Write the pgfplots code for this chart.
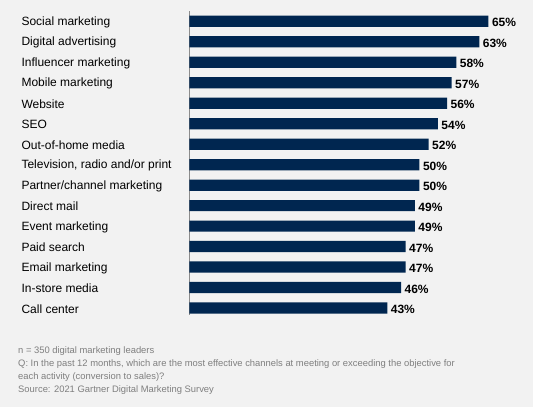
\documentclass[border=0pt]{standalone}
\usepackage{fontspec}
\setmainfont{Liberation Sans}
\usepackage{pgfplots}
\pgfplotsset{compat=1.18}
\definecolor{bg}{HTML}{F2F2F2}
\definecolor{navy}{HTML}{002650}
\definecolor{note}{HTML}{7F7F7F}
\definecolor{axisgray}{HTML}{8C8C8C}
\begin{document}
\begin{tikzpicture}
\fill[bg] (0,0) rectangle (533pt,407pt);
\begin{axis}[
  at={(189.5pt,92pt)}, anchor=south west,
  scale only axis, width=322pt, height=304pt,
  xmin=0, xmax=70, ymin=0.497, ymax=15.34,
  y dir=reverse,
  xbar, bar width=11.2pt,
  axis x line=none, axis y line=left,
  y axis line style={-, axisgray, line width=0.8pt},
  major tick length=0pt,
  ytick={1,...,15},
  yticklabels={Social marketing, Digital advertising, Influencer marketing, Mobile marketing, Website, SEO, Out-of-home media, {Television, radio and/or print}, Partner/channel marketing, Direct mail, Event marketing, Paid search, Email marketing, In-store media, Call center},
  yticklabel style={anchor=west, xshift=-171.5pt, yshift=-1pt, font=\fontsize{12}{14}\selectfont, text=black},
  /pgf/number format/assume math mode=true,
  nodes near coords={\pgfmathprintnumber{\pgfplotspointmeta}\%},
  nodes near coords style={font=\fontsize{12}{14}\selectfont\bfseries, text=black, anchor=west, xshift=0pt, yshift=-1.5pt},
  point meta=explicit,
]
\addplot[fill=navy, draw=none] coordinates {
(65,1) [65] (63,2) [63] (58,3) [58] (57,4) [57] (56,5) [56] (54,6) [54] (52,7) [52] (50,8) [50] (50,9) [50] (49,10) [49] (49,11) [49] (47,12) [47] (47,13) [47] (46,14) [46] (43,15) [43]
};
\end{axis}
\begin{scope}[every node/.style={anchor=base west, inner sep=0pt, font=\fontsize{9.4}{11}\selectfont, text=note}]
\node at (18pt,{407pt-353.5pt}) {n = 350 digital marketing leaders};
\node at (18pt,{407pt-366.5pt}) {Q: In the past 12 months, which are the most effective channels at meeting or exceeding the objective for};
\node at (18pt,{407pt-379.5pt}) {each activity (conversion to sales)?};
\node at (18pt,{407pt-393pt}) {Source: 2021 Gartner Digital Marketing Survey};
\end{scope}
\pgfresetboundingbox
\path (0,0) rectangle (533pt,407pt);
\end{tikzpicture}
\end{document}
